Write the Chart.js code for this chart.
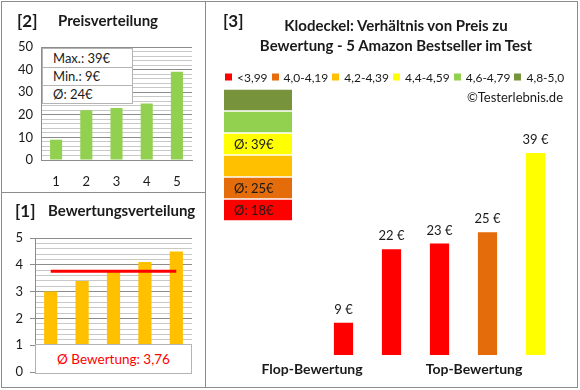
<!DOCTYPE html>
<html><head><meta charset="utf-8">
<script src="https://cdn.jsdelivr.net/npm/chart.js@4.4.1/dist/chart.umd.min.js"></script>
<style>
html,body{margin:0;padding:0;background:#fff;}
#wrap{position:relative;width:580px;height:390px;overflow:hidden;font-family:Lato,sans-serif;color:#1a1a1a;background:#fff;}
.ln{position:absolute;background:#8c8c8c;}
canvas{position:absolute;}
.t{position:absolute;white-space:nowrap;line-height:1;}
.b{font-weight:bold;}
#lg{position:absolute;left:225px;top:77px;transform:translateY(-50%);display:flex;align-items:center;font-size:12px;white-space:nowrap;}
#lg .it{display:flex;align-items:center;margin-right:4px;}
#lg .sq{width:7px;height:7px;margin-right:5px;}
#stat{position:absolute;left:42px;top:48px;width:89px;border:1px solid #b4b4b4;background:#fff;font-size:13px;}
#stat div{height:17px;line-height:17px;padding-left:10px;border-top:1px solid #b4b4b4;}
#stat div:first-child{border-top:none;height:18px;line-height:18px;}
#avgbox{position:absolute;left:35px;top:344px;width:155px;height:28px;border:1px solid #b4b4b4;background:#fff;color:#FF0000;font-size:13.5px;text-align:center;line-height:28px;}
</style></head><body>
<div id="wrap">
  <div class="ln" style="left:1px;top:1px;width:577px;height:1px"></div>
  <div class="ln" style="left:1px;top:387px;width:577px;height:1px"></div>
  <div class="ln" style="left:1px;top:1px;width:1px;height:387px"></div>
  <div class="ln" style="left:577px;top:1px;width:1px;height:387px"></div>
  <div class="ln" style="left:205px;top:1px;width:1px;height:387px"></div>
  <div class="ln" style="left:1px;top:192px;width:205px;height:1px"></div>

  <canvas id="c2" width="204" height="190" style="left:2px;top:2px"></canvas>
  <canvas id="c1" width="203" height="194" style="left:2px;top:193px"></canvas>
  <canvas id="c3" width="370" height="384" style="left:206px;top:2px"></canvas>
  <canvas id="c4" width="68" height="132" style="left:224px;top:89px"></canvas>

  <div class="t b" style="left:17px;top:20px;font-size:17px;transform:translateY(-50%)">[2]</div>
  <div class="t b" style="left:58px;top:20px;font-size:15px;transform:translateY(-50%)">Preisverteilung</div>
  <div class="t b" style="left:15px;top:210px;font-size:17px;transform:translateY(-50%)">[1]</div>
  <div class="t b" style="left:48px;top:210px;font-size:15px;transform:translateY(-50%)">Bewertungsverteilung</div>
  <div class="t b" style="left:223px;top:20px;font-size:17px;transform:translateY(-50%)">[3]</div>
  <div class="t b" style="left:396px;top:25px;font-size:15px;transform:translate(-50%,-50%)">Klodeckel: Verhältnis von Preis zu</div>
  <div class="t b" style="left:396px;top:45px;font-size:15px;transform:translate(-50%,-50%)">Bewertung - 5 Amazon Bestseller im Test</div>
  <div class="t" style="left:563px;top:97px;font-size:13px;transform:translate(-100%,-50%)">©Testerlebnis.de</div>
  <div class="t b" style="left:312px;top:369px;font-size:14px;transform:translate(-50%,-50%)">Flop-Bewertung</div>
  <div class="t b" style="left:474px;top:369px;font-size:14px;transform:translate(-50%,-50%)">Top-Bewertung</div>
  <div id="lg"></div>
  <div id="stat"></div>
  <div id="avgbox"></div>
</div>
<script>
// ---- data ----
const productLabels = ['1', '2', '3', '4', '5'];
const prices = [9, 22, 23, 25, 39];
const ratings = [3.0, 3.4, 3.8, 4.1, 4.5];
const priceTickLabels = [0, 10, 20, 30, 40, 50];
const ratingTickLabels = [0, 1, 2, 3, 4, 5];
const bucketLabels = ['<3,99', '4,0-4,19', '4,2-4,39', '4,4-4,59', '4,6-4,79', '4,8-5,0'];
const bucketMins = [0, 4.0, 4.2, 4.4, 4.6, 4.8];
const bucketColors = ['#FF0000', '#E46C0A', '#FFC000', '#FFFF00', '#92D050', '#77933C'];

const FONT = 'Lato';
const TXT = '#1a1a1a';
const GRID_MAJOR = '#8c8c8c';
const GRID_MINOR = '#c8c8c8';
const isMajor = (v, list) => list.some(m => Math.abs(m - v) < 1e-6);

function bucketOf(r) {
  let idx = 0;
  bucketMins.forEach((m, i) => { if (r >= m - 1e-9) idx = i; });
  return idx;
}

// ---- derived stats ----
const maxP = Math.max(...prices), minP = Math.min(...prices);
const avgP = Math.round(prices.reduce((a, b) => a + b, 0) / prices.length);
const avgR = ratings.reduce((a, b) => a + b, 0) / ratings.length;

document.getElementById('stat').innerHTML =
  `<div>Max.: ${maxP}€</div><div>Min.: ${minP}€</div><div>Ø: ${avgP}€</div>`;
document.getElementById('avgbox').textContent = 'Ø Bewertung: ' + avgR.toFixed(2).replace('.', ',');
document.getElementById('lg').innerHTML = bucketLabels.map((l, i) =>
  `<span class="it"><span class="sq" style="background:${bucketColors[i]}"></span>${l}</span>`).join('');

Chart.defaults.font.family = FONT;
Chart.defaults.color = TXT;

// ---- [2] Preisverteilung ----
new Chart(document.getElementById('c2'), {
  type: 'bar',
  data: { labels: productLabels, datasets: [{ data: prices, backgroundColor: '#92D050', barPercentage: 0.4, categoryPercentage: 1 }] },
  options: {
    responsive: false, animation: false,
    plugins: { legend: { display: false }, tooltip: { enabled: false } },
    layout: { padding: { left: 0, right: 14, top: 45, bottom: 0 } },
    scales: {
      x: { grid: { display: false, drawTicks: false }, border: { color: GRID_MAJOR },
           ticks: { color: TXT, font: { size: 13 }, padding: 14 },
           afterFit(s) { s.height = 32; } },
      y: { min: 0, max: 50,
           ticks: { stepSize: 2, autoSkip: false, padding: 8, color: TXT, font: { size: 13 },
                    callback: v => isMajor(v, priceTickLabels) ? String(v) : '' },
           grid: { drawTicks: false, color: c => isMajor(c.tick.value, priceTickLabels) ? GRID_MAJOR : GRID_MINOR },
           border: { color: GRID_MAJOR },
           afterFit(s) { s.width = 39; } }
    }
  }
});

// ---- [1] Bewertungsverteilung ----
new Chart(document.getElementById('c1'), {
  type: 'bar',
  data: { labels: productLabels, datasets: [
    { type: 'line', data: ratings.map(() => avgR), borderColor: '#FF0000', borderWidth: 3, pointRadius: 0, order: 0 },
    { type: 'bar', data: ratings, backgroundColor: '#FFC000', barPercentage: 0.42, categoryPercentage: 1, order: 1 }
  ] },
  options: {
    responsive: false, animation: false,
    plugins: { legend: { display: false }, tooltip: { enabled: false } },
    layout: { padding: { left: 0, right: 13, top: 45, bottom: 15 } },
    scales: {
      x: { display: false },
      y: { min: 0, max: 5,
           ticks: { stepSize: 0.2, autoSkip: false, padding: 7, color: TXT, font: { size: 13 },
                    callback: v => isMajor(v, ratingTickLabels) ? String(Math.round(v)) : '' },
           grid: { tickLength: 5, color: c => isMajor(c.tick.value, ratingTickLabels) ? GRID_MAJOR : GRID_MINOR,
                   tickColor: c => isMajor(c.tick.value, ratingTickLabels) ? GRID_MAJOR : 'rgba(0,0,0,0)' },
           border: { color: GRID_MAJOR },
           afterFit(s) { s.width = 33; } }
    }
  }
});

// ---- [3] Preis zu Bewertung ----
const valueLabels = {
  id: 'valueLabels',
  afterDatasetsDraw(chart) {
    const ctx = chart.ctx;
    const meta = chart.getDatasetMeta(0);
    ctx.save();
    ctx.font = `13px ${FONT}`;
    ctx.fillStyle = TXT;
    ctx.textAlign = 'center';
    ctx.textBaseline = 'middle';
    meta.data.forEach((el, i) => ctx.fillText(prices[i] + ' €', el.x, el.y - 13));
    ctx.restore();
  }
};
new Chart(document.getElementById('c3'), {
  type: 'bar',
  data: { labels: productLabels, datasets: [{ data: prices,
    backgroundColor: ratings.map(r => bucketColors[bucketOf(r)]), barPercentage: 0.4, categoryPercentage: 1 }] },
  options: {
    responsive: false, animation: false,
    plugins: { legend: { display: false }, tooltip: { enabled: false } },
    layout: { padding: { left: 113.5, right: 16.5, top: 117, bottom: 31 } },
    scales: { x: { display: false }, y: { display: false, min: 3.3, max: 45 } }
  },
  plugins: [valueLabels]
});

// ---- rating-group swatches with average price ----
const swatchOrder = bucketLabels.map((_, i) => i).reverse();
const groupAvg = swatchOrder.map(b => {
  const p = prices.filter((_, i) => bucketOf(ratings[i]) === b);
  return p.length ? Math.round(p.reduce((a, c) => a + c, 0) / p.length) : null;
});
const swatchText = {
  id: 'swatchText',
  afterDatasetsDraw(chart) {
    const ctx = chart.ctx;
    const meta = chart.getDatasetMeta(0);
    ctx.save();
    ctx.font = `13px ${FONT}`;
    ctx.fillStyle = TXT;
    ctx.textBaseline = 'middle';
    meta.data.forEach((el, i) => {
      if (groupAvg[i] !== null) ctx.fillText('Ø: ' + groupAvg[i] + '€', chart.chartArea.left + 10, el.y + 1);
    });
    ctx.restore();
  }
};
new Chart(document.getElementById('c4'), {
  type: 'bar',
  data: { labels: swatchOrder.map(b => bucketLabels[b]), datasets: [{
    data: swatchOrder.map(() => [0, 1]),
    backgroundColor: swatchOrder.map(b => bucketColors[b]), barPercentage: 0.93, categoryPercentage: 1 }] },
  options: {
    indexAxis: 'y', responsive: false, animation: false,
    plugins: { legend: { display: false }, tooltip: { enabled: false } },
    layout: { padding: 0 },
    scales: { x: { display: false, min: 0, max: 1 }, y: { display: false } }
  },
  plugins: [swatchText]
});
</script>
</body></html>
